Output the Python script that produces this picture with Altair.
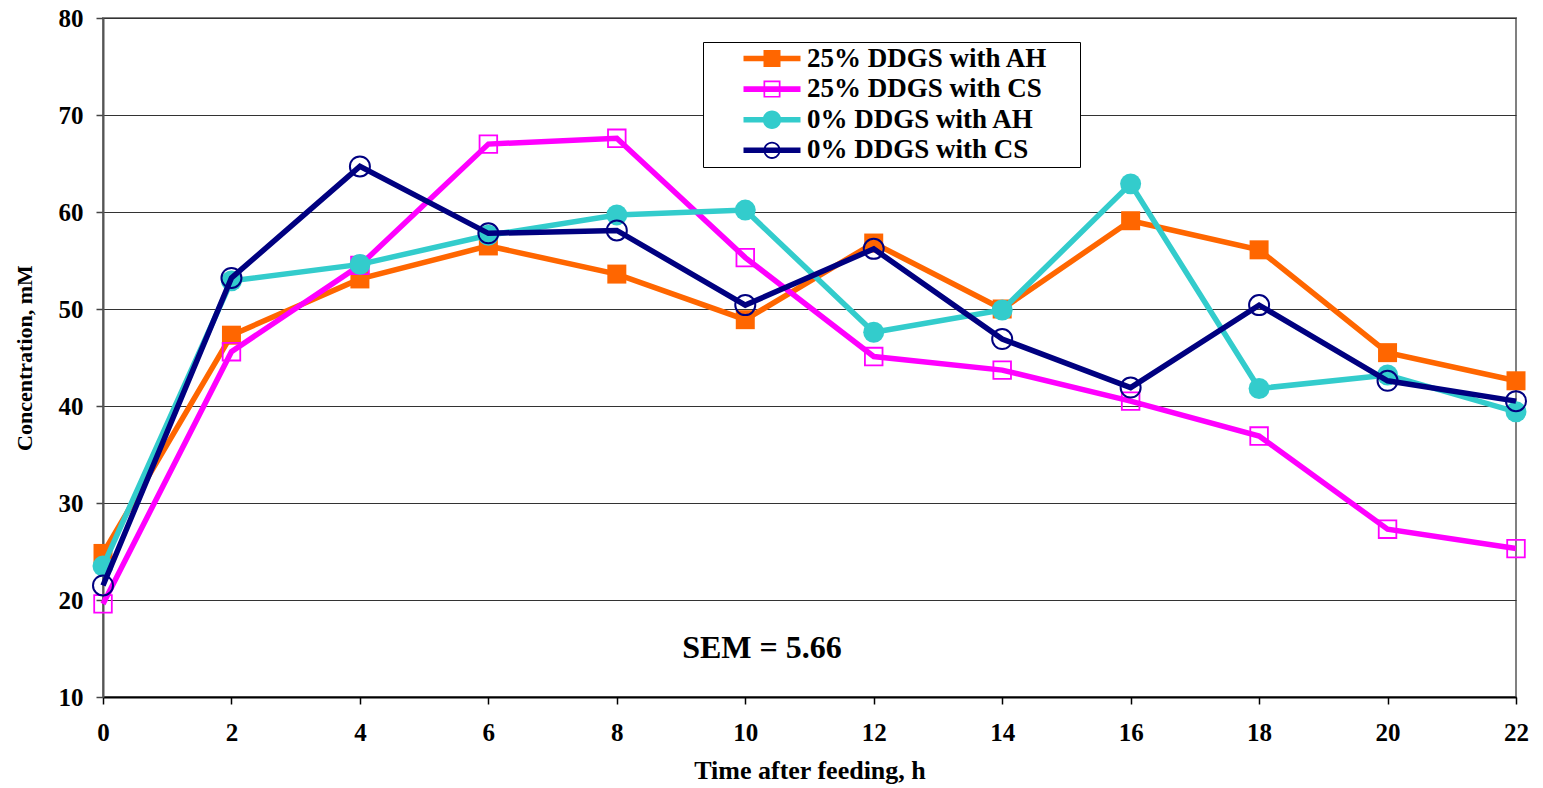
import altair as alt
import pandas as pd

# Sampling times (h after feeding)
hours = [0, 2, 4, 6, 8, 10, 12, 14, 16, 18, 20, 22]

# Treatment names
series_names = ["25% DDGS with AH", "25% DDGS with CS", "0% DDGS with AH", "0% DDGS with CS"]

# Concentration, mM
ddgs25_ah = [24.8, 47.3, 53.1, 56.5, 53.6, 48.9, 56.8, 50.0, 59.1, 56.1, 45.5, 42.6]
ddgs25_cs = [19.6, 45.6, 54.5, 67.0, 67.6, 55.3, 45.1, 43.7, 40.5, 36.9, 27.3, 25.3]
ddgs0_ah = [23.5, 52.9, 54.6, 57.6, 59.7, 60.2, 47.6, 49.9, 62.9, 41.8, 43.2, 39.4]
ddgs0_cs = [21.5, 53.2, 64.7, 57.8, 58.1, 50.4, 56.2, 46.9, 41.9, 50.4, 42.6, 40.5]

y_ticks = [10, 20, 30, 40, 50, 60, 70, 80]

sem_label = "SEM = 5.66"
sem_hour = 10.26
sem_conc = 15.1

series_colors = ["#FF6600", "#FF00FF", "#33CCCC", "#000080"]

FONT = "Liberation Serif"

rows = []
for name, values in zip(series_names, [ddgs25_ah, ddgs25_cs, ddgs0_ah, ddgs0_cs]):
    for h, v in zip(hours, values):
        rows.append({"series": name, "hour": h, "conc": v})
df = pd.DataFrame(rows)

# Legend glyphs: a thick line with the marker on top (unit coords, r = 10 px)
line_path = "M-2.85,-0.28L2.85,-0.28L2.85,0.28L-2.85,0.28Z"
pad_path = "M-6.25,0L-6.24,0L-6.24,0.01ZM30.44,0L30.45,0L30.45,0.01Z"
sq_fill = "M-0.85,-0.85L0.85,-0.85L0.85,0.85L-0.85,0.85Z"
sq_open = sq_fill + "M-0.68,-0.68L-0.68,0.68L0.68,0.68L0.68,-0.68Z"
c_fill = "M-0.92,0A0.92,0.92,0,1,1,0.92,0A0.92,0.92,0,1,1,-0.92,0Z"
c_open = ("M-0.86,0A0.86,0.86,0,1,1,0.86,0A0.86,0.86,0,1,1,-0.86,0Z"
          "M-0.68,0A0.68,0.68,0,1,0,0.68,0A0.68,0.68,0,1,0,-0.68,0Z")
glyphs = [sq_fill, sq_open, c_fill, c_open]

shape_expr = "'" + line_path + pad_path + glyphs[3] + "'"
for name, g in reversed(list(zip(series_names[:3], glyphs[:3]))):
    shape_expr = f"datum.value === '{name}' ? '{line_path + pad_path + g}' : " + shape_expr

legend = alt.Legend(
    title=None,
    orient="none",
    legendX=600,
    legendY=24,
    fillColor="white",
    strokeColor="black",
    padding=3,
    labelFont=FONT,
    labelFontSize=27,
    labelFontWeight="bold",
    labelColor="black",
    labelLimit=500,
    symbolSize=400,
    symbolType={"expr": shape_expr},
    symbolFillColor={"expr": "scale('color', datum.value)"},
    symbolStrokeColor="transparent",
    symbolStrokeWidth=0,
    symbolOpacity=1,
    symbolOffset=52.5,
    labelOffset=21.5,
    rowPadding=2.6,
)

x_enc = alt.X(
    "hour:Q",
    scale=alt.Scale(domain=[0, 22], nice=False),
    axis=alt.Axis(
        values=hours,
        title="Time after feeding, h",
        grid=False,
        labelFont=FONT,
        labelFontSize=25,
        labelFontWeight="bold",
        labelColor="black",
        labelPadding=16,
        labelFlush=False,
        tickSize=7,
        tickColor="black",
        tickWidth=1.5,
        domainColor="black",
        domainWidth=2,
        titleFont=FONT,
        titleFontSize=26,
        titleFontWeight="bold",
        titleColor="black",
        titlePadding=12,
    ),
)

y_enc = alt.Y(
    "conc:Q",
    scale=alt.Scale(domain=[10, 80], nice=False),
    axis=alt.Axis(
        values=y_ticks,
        title="Concentration, mM",
        grid=True,
        gridColor="#333333",
        gridWidth=1,
        labelFont=FONT,
        labelFontSize=25,
        labelFontWeight="bold",
        labelColor="black",
        labelPadding=13,
        labelFlush=False,
        tickSize=7,
        tickColor="#444444",
        tickWidth=1.5,
        domainColor="#555555",
        domainWidth=2,
        titleFont=FONT,
        titleFontSize=22,
        titleFontWeight="bold",
        titleColor="black",
        titlePadding=22,
    ),
)

color_enc = alt.Color(
    "series:N",
    scale=alt.Scale(domain=series_names, range=series_colors),
    legend=legend,
)

marker_styles = [
    dict(shape="square", filled=True, size=361, strokeWidth=0),
    dict(shape="square", filled=False, size=310, strokeWidth=1.8),
    dict(shape="circle", filled=True, size=440, strokeWidth=0),
    dict(shape="circle", filled=False, size=400, strokeWidth=2),
]

layers = []
for name, style in zip(series_names, marker_styles):
    base = alt.Chart(df).transform_filter(alt.datum.series == name)
    layers.append(
        base.mark_line(strokeWidth=5.5).encode(x=x_enc, y=y_enc, color=color_enc)
    )
    layers.append(
        base.mark_point(opacity=1, **style).encode(x=x_enc, y=y_enc, color=color_enc)
    )

sem_df = pd.DataFrame({"hour": [sem_hour], "conc": [sem_conc], "label": [sem_label]})
sem_text = (
    alt.Chart(sem_df)
    .mark_text(font=FONT, fontSize=32, fontWeight="bold", color="black",
               align="center", baseline="middle")
    .encode(x=x_enc, y=y_enc, text="label:N")
)
layers.append(sem_text)

chart = (
    alt.layer(*layers)
    .properties(
        width=1413,
        height=679,
        autosize=alt.AutoSizeParams(type="none"),
        padding={"left": 103, "top": 18, "right": 27, "bottom": 91},
        background="white",
    )
    .configure_view(stroke="#808080", strokeWidth=2)
)

chart.save("out.html", embed_options={"renderer": "svg", "actions": False})
